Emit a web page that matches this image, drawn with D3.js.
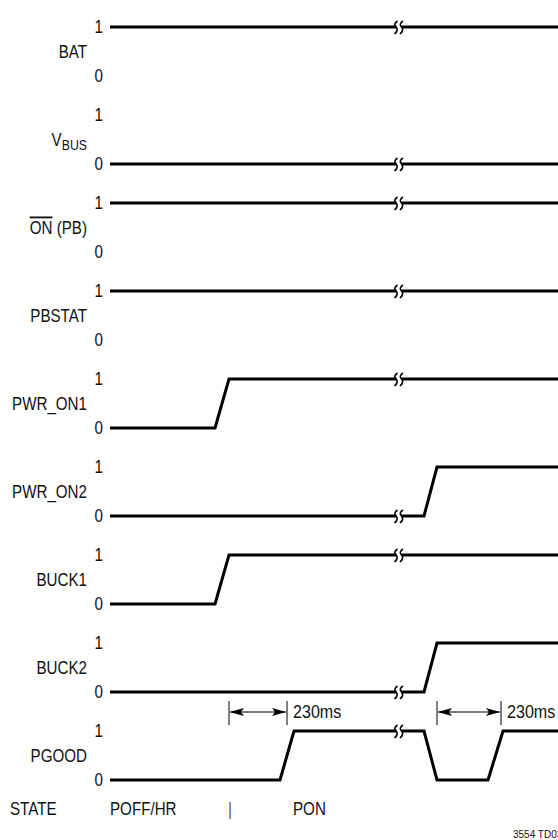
<!DOCTYPE html>
<html><head><meta charset="utf-8">
<script src="https://cdn.jsdelivr.net/npm/d3@7"></script>
<style>
html,body{margin:0;padding:0;background:#fff;}
svg{display:block;}
text{font-family:"Liberation Sans",Arial,sans-serif;fill:#111;}
</style></head>
<body>
<svg id="chart" width="558" height="840"></svg>
<script>
// ---- data ----
const signals = ["BAT","VBUS","ON (PB)","PBSTAT","PWR_ON1","PWR_ON2","BUCK1","BUCK2","PGOOD"];
const levelLabels = ["1","0"];
const batWave    = [[0,1],[448,1]];
const vbusWave   = [[0,0],[448,0]];
const onWave     = [[0,1],[448,1]];
const pbstatWave = [[0,1],[448,1]];
const pwrOn1Wave = [[0,0],[105,0],[119,1],[448,1]];
const pwrOn2Wave = [[0,0],[314,0],[327,1],[448,1]];
const buck1Wave  = [[0,0],[105,0],[119,1],[448,1]];
const buck2Wave  = [[0,0],[314,0],[327,1],[448,1]];
const pgoodWave  = [[0,0],[170,0],[184,1],[314,1],[327,0],[378,0],[393,1],[448,1]];
const waves = [batWave,vbusWave,onWave,pbstatWave,pwrOn1Wave,pwrOn2Wave,buck1Wave,buck2Wave,pgoodWave];
const breakTime = 288;
const delayArrows = [[119,177],[327,391]];
const delayLabel = "230ms";
const stateLabels = [["POFF/HR",0],["|",118],["PON",183]];
const footnote = "3554 TD03";

// ---- scales ----
const svg = d3.select("#chart");
const x = d3.scaleLinear().domain([0,448]).range([110,558]);
const row = d3.scalePoint().domain(signals).range([27,731]);
const lvl = d3.scaleLinear().domain([0,1]).range([49,0]);
const fs = 18.5, sx = 0.82;

function addText(px, py, anchor, size, s){
  return svg.append("g").attr("transform",`translate(${px},${py}) scale(${s===undefined?sx:s},1)`)
    .append("text").attr("x",0).attr("y",0).attr("dy","0.35em")
    .attr("text-anchor",anchor).style("font-size",size+"px");
}

signals.forEach((name,i)=>{
  const y0 = row(name);
  addText(103, y0+lvl(1), "end", fs).text(levelLabels[0]);
  addText(103, y0+lvl(0), "end", fs).text(levelLabels[1]);
  const t = addText(87, y0+lvl(0.5), "end", fs);
  if(name==="VBUS"){
    t.append("tspan").text("V");
    t.append("tspan").attr("dy",4).style("font-size","15px").text("BUS");
  } else if(name==="ON (PB)"){
    t.append("tspan").style("text-decoration","overline").text("ON");
    t.append("tspan").text(" (PB)");
  } else t.text(name);
  // waveform
  const wl = d3.line().x(d=>x(d[0])).y(d=>y0+lvl(d[1]));
  svg.append("path").attr("d",wl(waves[i])).attr("fill","none")
    .attr("stroke","#000").attr("stroke-width",3).attr("stroke-linejoin","miter");
  // break symbol
  const w = waves[i];
  let lv = w[0][1];
  w.forEach(p=>{ if(p[0]<=breakTime) lv=p[1]; });
  const yb = y0+lvl(lv), xb = x(breakTime);
  svg.append("rect").attr("x",xb-1.5).attr("y",yb-3).attr("width",5).attr("height",6).attr("fill","#fff");
  [xb-2, xb+3.5].forEach(xx=>{
    svg.append("path")
      .attr("d",`M${xx+1.5},${yb-6} Q${xx-3},${yb-3} ${xx},${yb} Q${xx+3},${yb+3} ${xx-1.5},${yb+7}`)
      .attr("fill","none").attr("stroke","#000").attr("stroke-width",1.6);
  });
});

// delay arrows (between BUCK2 and PGOOD)
const yArrow = 712;
const defs = svg.append("defs");
["s","e"].forEach(k=>{
  defs.append("marker").attr("id","ar"+k).attr("viewBox","0 0 14 8")
    .attr("refX",14).attr("refY",4).attr("markerWidth",14).attr("markerHeight",8)
    .attr("markerUnits","userSpaceOnUse").attr("orient","auto-start-reverse")
    .append("path").attr("d","M0,0 L14,4 L0,8 L3,4 Z").attr("fill","#000");
});
delayArrows.forEach(a=>{
  const x1 = x(a[0]), x2 = x(a[1]);
  svg.append("line").attr("x1",x1).attr("x2",x1).attr("y1",701).attr("y2",725).attr("stroke","#000").attr("stroke-width",1);
  svg.append("line").attr("x1",x2).attr("x2",x2).attr("y1",701).attr("y2",725).attr("stroke","#000").attr("stroke-width",1);
  svg.append("line").attr("x1",x1+1).attr("x2",x2-1).attr("y1",yArrow).attr("y2",yArrow)
    .attr("stroke","#000").attr("stroke-width",1)
    .attr("marker-start","url(#ars)").attr("marker-end","url(#are)");
  addText(x2+6, yArrow, "start", fs, 0.87).text(delayLabel);
});

// state row
addText(10, 809, "start", fs).text("STATE");
stateLabels.forEach(s=>{
  const tt = addText(x(s[1]), 809, "start", fs).text(s[0]);
  if(s[0]==="|") tt.style("fill","#555");
});

addText(513, 834, "start", 10, 1).text(footnote);
</script>
</body></html>
